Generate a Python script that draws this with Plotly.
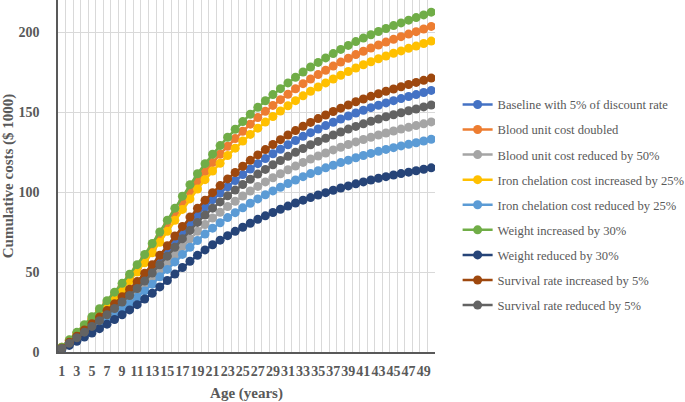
import plotly.graph_objects as go

ages = list(range(1, 51))

baseline = [2.3, 5.9, 9.5, 13.2, 16.9, 20.8, 24.7, 28.8, 33.0, 37.4, 42.0, 47.0, 52.2, 57.8, 63.4, 69.2, 75.0, 80.5, 85.8, 90.6,
            95.2, 99.3, 103.3, 107.2, 110.9, 114.4, 117.7, 120.9, 123.9, 126.7, 129.5, 132.2, 134.8, 137.1, 139.4, 141.5, 143.6, 145.6, 147.5, 149.4,
            151.1, 152.7, 154.2, 155.7, 157.1, 158.4, 159.7, 160.9, 162.2, 163.5]
blood_doubled = [2.9, 7.3, 11.8, 16.4, 21.1, 25.9, 30.8, 35.8, 41.1, 46.6, 52.3, 58.4, 65.0, 71.9, 78.9, 86.1, 93.3, 100.2, 106.7, 112.8,
                 118.4, 123.6, 128.6, 133.4, 138.0, 142.4, 146.5, 150.4, 154.1, 157.7, 161.1, 164.5, 167.7, 170.6, 173.4, 176.1, 178.7, 181.2, 183.6, 185.9,
                 188.0, 190.0, 191.9, 193.7, 195.4, 197.1, 198.7, 200.2, 201.9, 203.5]
blood_reduced = [2.0, 5.1, 8.3, 11.6, 14.9, 18.3, 21.7, 25.3, 29.0, 32.9, 37.0, 41.3, 45.9, 50.8, 55.8, 60.9, 65.9, 70.8, 75.4, 79.7,
                 83.7, 87.3, 90.9, 94.2, 97.5, 100.6, 103.5, 106.3, 108.9, 111.4, 113.9, 116.2, 118.5, 120.6, 122.5, 124.4, 126.3, 128.0, 129.7, 131.3,
                 132.8, 134.2, 135.6, 136.9, 138.1, 139.3, 140.4, 141.5, 142.6, 143.8]
iron_increased = [2.7, 7.0, 11.3, 15.6, 20.1, 24.7, 29.4, 34.2, 39.3, 44.5, 50.0, 55.8, 62.0, 68.6, 75.4, 82.3, 89.1, 95.7, 101.9, 107.7,
                  113.1, 118.0, 122.8, 127.4, 131.8, 136.0, 139.9, 143.7, 147.2, 150.6, 153.9, 157.1, 160.1, 163.0, 165.6, 168.2, 170.6, 173.0, 175.3, 177.5,
                  179.5, 181.4, 183.3, 185.0, 186.7, 188.2, 189.8, 191.2, 192.8, 194.3]
iron_reduced = [1.9, 4.8, 7.7, 10.7, 13.8, 16.9, 20.1, 23.4, 26.9, 30.4, 34.2, 38.2, 42.4, 47.0, 51.6, 56.3, 61.0, 65.5, 69.7, 73.7,
                77.4, 80.8, 84.0, 87.1, 90.1, 93.0, 95.7, 98.3, 100.7, 103.0, 105.3, 107.5, 109.6, 111.5, 113.3, 115.1, 116.7, 118.4, 119.9, 121.4,
                122.8, 124.1, 125.4, 126.6, 127.7, 128.8, 129.8, 130.8, 131.9, 133.0]
weight_increased = [3.0, 7.6, 12.3, 17.1, 22.0, 27.0, 32.1, 37.4, 42.9, 48.6, 54.6, 61.0, 67.8, 75.0, 82.4, 89.9, 97.4, 104.6, 111.4, 117.7,
                    123.6, 129.0, 134.2, 139.2, 144.0, 148.6, 152.9, 157.0, 160.9, 164.6, 168.2, 171.7, 175.0, 178.1, 181.0, 183.8, 186.5, 189.1, 191.6, 194.0,
                    196.2, 198.3, 200.3, 202.2, 204.0, 205.7, 207.4, 209.0, 210.7, 212.4]
weight_reduced = [1.6, 4.1, 6.7, 9.3, 11.9, 14.6, 17.4, 20.3, 23.3, 26.3, 29.6, 33.1, 36.7, 40.7, 44.7, 48.7, 52.8, 56.7, 60.4, 63.8,
                  67.0, 69.9, 72.7, 75.4, 78.0, 80.5, 82.9, 85.1, 87.2, 89.2, 91.2, 93.1, 94.9, 96.5, 98.1, 99.6, 101.1, 102.5, 103.8, 105.1,
                  106.3, 107.5, 108.6, 109.6, 110.6, 111.5, 112.4, 113.3, 114.2, 115.1]
survival_increased = [2.4, 6.1, 9.9, 13.8, 17.7, 21.8, 25.9, 30.1, 34.6, 39.2, 44.0, 49.2, 54.6, 60.5, 66.4, 72.5, 78.5, 84.3, 89.8, 94.9,
                      99.6, 104.0, 108.2, 112.2, 116.1, 119.8, 123.2, 126.5, 129.7, 132.7, 135.6, 138.4, 141.1, 143.5, 145.9, 148.1, 150.3, 152.4, 154.4, 156.4,
                      158.1, 159.8, 161.4, 163.0, 164.4, 165.8, 167.2, 168.5, 169.8, 171.2]
survival_reduced = [2.2, 5.5, 8.9, 12.4, 16.0, 19.6, 23.3, 27.2, 31.2, 35.3, 39.7, 44.3, 49.3, 54.5, 59.9, 65.4, 70.8, 76.0, 81.0, 85.6,
                    89.9, 93.8, 97.6, 101.2, 104.7, 108.0, 111.2, 114.1, 117.0, 119.7, 122.3, 124.8, 127.2, 129.5, 131.6, 133.6, 135.6, 137.5, 139.3, 141.0,
                    142.6, 144.2, 145.6, 147.0, 148.3, 149.5, 150.8, 151.9, 153.2, 154.4]

series_names = [
    "Baseline with 5% of discount rate",
    "Blood unit cost doubled",
    "Blood unit cost reduced by 50%",
    "Iron chelation cost increased by 25%",
    "Iron chelation cost reduced by 25%",
    "Weight increased by 30%",
    "Weight reduced by 30%",
    "Survival rate increased by 5%",
    "Survival rate reduced by 5%",
]
series_values = [baseline, blood_doubled, blood_reduced, iron_increased, iron_reduced,
                 weight_increased, weight_reduced, survival_increased, survival_reduced]
colors = ["#4472C4", "#ED7D31", "#A5A5A5", "#FFC000", "#5B9BD5",
          "#70AD47", "#264478", "#9E480E", "#636363"]

x_tick_vals = list(range(1, 50, 2))
x_tick_text = [str(v) for v in x_tick_vals]
y_tick_vals = [0, 50, 100, 150, 200]

FONT = "Times New Roman, Liberation Serif, serif"
TXT = "#595959"

fig = go.Figure()
for i, (name, vals, col) in enumerate(zip(series_names, series_values, colors)):
    fig.add_trace(go.Scatter(
        x=ages, y=vals, name=name, mode="lines+markers",
        line=dict(color=col, width=2.5),
        marker=dict(color=col, size=9),
        legendgroup=f"g{i}",
    ))

fig.update_layout(
    width=685, height=402,
    margin=dict(l=58, r=250, t=0, b=50, autoexpand=False),
    paper_bgcolor="white", plot_bgcolor="white",
    font=dict(family=FONT, color=TXT),
    showlegend=True,
    legend=dict(
        x=1.06, y=0.745, xanchor="left", yanchor="top",
        font=dict(family=FONT, size=12.6, color=TXT),
        tracegroupgap=5.7, itemwidth=30,
        bgcolor="rgba(0,0,0,0)",
    ),
)
fig.update_xaxes(
    range=[0.5, 50.5],
    tickmode="array", tickvals=x_tick_vals, ticktext=x_tick_text,
    tickangle=0, automargin=False,
    showgrid=False,
    minor=dict(showgrid=True, gridcolor="#D9D9D9", gridwidth=1, tick0=0.5, dtick=1),
    showline=True, linecolor="#595959", linewidth=1.5,
    ticks="", ticklabelstandoff=5,
    tickfont=dict(family=FONT, size=14, color=TXT, weight="bold"),
    title=dict(text="<b>Age (years)</b>", font=dict(family=FONT, size=15, color=TXT), standoff=10),
    zeroline=False,
)
fig.update_yaxes(
    range=[0, 220], automargin=False,
    tickmode="array", tickvals=y_tick_vals,
    showgrid=True, gridcolor="#D9D9D9", gridwidth=1,
    showline=True, linecolor="#595959", linewidth=1.5,
    ticks="", ticklabelstandoff=14,
    tickfont=dict(family=FONT, size=14, color=TXT, weight="bold"),
    title=dict(text="<b>Cumulative costs ($ 1000)</b>", font=dict(family=FONT, size=15, color=TXT), standoff=6),
    zeroline=False,
)

fig.write_html("out.html", config={"displayModeBar": False},
               post_script="document.body.style.margin='0';")
